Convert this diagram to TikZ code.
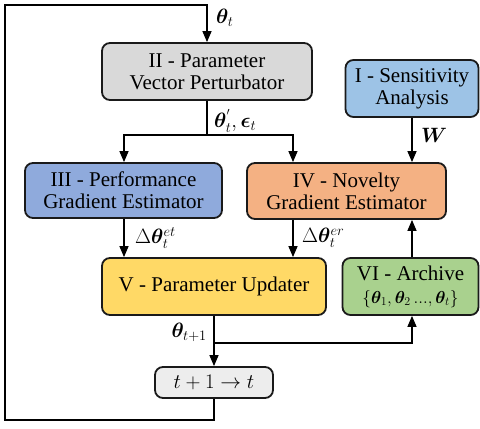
\documentclass[tikz,border=0pt]{standalone}
\usepackage{amsmath}
\usepackage{bm}
\usepackage{fontspec}
\setmainfont{Liberation Serif}
\usetikzlibrary{arrows.meta,calc}
\definecolor{cI}{HTML}{9DC3E6}
\definecolor{cII}{HTML}{D9D9D9}
\definecolor{cIII}{HTML}{8FAADC}
\definecolor{cIV}{HTML}{F4B183}
\definecolor{cV}{HTML}{FFD966}
\definecolor{cVI}{HTML}{A9D18E}
\definecolor{cT}{HTML}{EDEDED}
\definecolor{edge}{HTML}{1A1A1A}
\tikzset{
  blk/.style={draw=edge, line width=1.8pt, rounded corners=8pt, align=center,
    font=\fontsize{21}{22}\selectfont, inner sep=0pt},
  arr/.style={line width=1.3pt, draw=black, -{Triangle[length=11pt,width=9pt]}},
  ln/.style={line width=1.3pt, draw=black},
  lbl/.style={font=\fontsize{22}{22}\selectfont, inner sep=0pt}
}
\begin{document}
\begin{tikzpicture}[x=1pt,y=-1pt]
\useasboundingbox (0,0) rectangle (480,429);
% boxes
\node[blk, fill=cII, minimum width=210pt, minimum height=57pt] (II) at (207,71.5) {II - Parameter\\Vector Perturbator};
\node[blk, fill=cI, minimum width=133pt, minimum height=57pt] (I) at (412,88.5) {I - Sensitivity\\Analysis};
\node[blk, fill=cIII, minimum width=197pt, minimum height=55pt] (III) at (123.5,190.5) {III - Performance\\Gradient Estimator};
\node[blk, fill=cIV, minimum width=199pt, minimum height=56pt] (IV) at (346.5,191) {IV - Novelty\\Gradient Estimator};
\node[blk, fill=cV, minimum width=224pt, minimum height=57pt] (V) at (214,286.5) {V - Parameter Updater};
\node[blk, fill=cVI, minimum width=136pt, minimum height=57pt] (VI) at (410.5,286.5) {VI - Archive\\[1pt]{\fontsize{18}{18}\selectfont$\{\boldsymbol{\theta}_1,\boldsymbol{\theta}_2\,...,\boldsymbol{\theta}_t\}$}};
\node[blk, fill=cT, minimum width=118pt, minimum height=31pt] (T) at (214,382.5) {$t+1\rightarrow t$};
% helper coordinates
\coordinate (bl) at (5,420);
\coordinate (tp) at (207,5);
\coordinate (s1) at (207,135);
\coordinate (xl) at (124,0);
\coordinate (xm) at (293,0);
\coordinate (xr) at (412,0);
\coordinate (b1) at (214,343);
% connectors
\draw[arr] (T.south) |- (bl) |- (tp) -- (II.north);
\draw[ln] (II.south) -- (s1);
\draw[arr] (s1) -| (xl |- III.north);
\draw[arr] (s1) -| (xm |- IV.north);
\draw[arr] (I.south) -- (xr |- IV.north);
\draw[arr] (xl |- III.south) -- (xl |- V.north);
\draw[arr] (xm |- IV.south) -- (xm |- V.north);
\draw[arr] (V.south) -- (T.north);
\draw[arr] (b1) -| (xr |- VI.south);
\draw[arr] (xr |- VI.north) -- (xr |- IV.south);
% labels
\node[lbl, anchor=west] (Lt) at (216,18) {$\boldsymbol{\theta}_t$};
\node[lbl, anchor=west] (Lp) at (214,121) {$\boldsymbol{\theta}_t^{'}, \boldsymbol{\epsilon}_t$};
\node[lbl, anchor=west] (LW) at (421,135) {$\boldsymbol{W}$};
\node[lbl, anchor=west] (Le) at (135,238) {$\Delta\boldsymbol{\theta}_t^{et}$};
\node[lbl, anchor=west] (Lr) at (302,238) {$\Delta\boldsymbol{\theta}_t^{er}$};
\node[lbl, anchor=east] (L1) at (207,332) {$\boldsymbol{\theta}_{t+1}$};
\end{tikzpicture}
\end{document}
